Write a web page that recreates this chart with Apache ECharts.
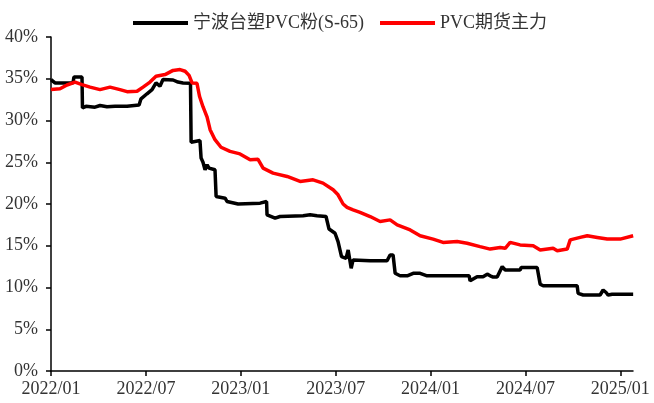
<!DOCTYPE html>
<html>
<head>
<meta charset="utf-8">
<script src="https://cdn.jsdelivr.net/npm/echarts@6/dist/echarts.min.js"></script>
<style>html,body{margin:0;padding:0;background:#fff}#c{width:654px;height:403px}</style>
</head>
<body>
<div id="c"></div>
<script>
// x values: months elapsed since 2022/01 (fractional)
const seriesNames = ['宁波台塑PVC粉(S-65)', 'PVC期货主力'];
const blackMonths = [0,0.25,1.39,1.45,1.96,1.99,2.21,2.78,3.10,3.54,4.05,4.81,5.57,5.69,6.07,6.39,6.64,6.89,7.08,7.72,8.03,8.35,8.82,8.86,9.42,9.49,9.61,9.74,9.87,9.99,10.37,10.44,11.01,11.13,11.83,13.22,13.63,13.66,14.17,14.48,15.94,16.38,16.82,17.39,17.58,17.96,18.15,18.37,18.66,18.79,18.91,18.98,19.10,20.18,21.25,21.44,21.63,21.76,22.07,22.52,22.90,23.34,23.78,26.44,26.50,26.94,27.32,27.58,27.77,27.96,28.21,28.53,28.72,29.66,29.73,30.74,30.93,31.12,32.19,33.27,33.33,33.65,34.72,34.91,35.10,35.23,35.48,36.81];
const blackValues = [34.9,34.5,34.5,35.2,35.2,31.5,31.7,31.6,31.8,31.65,31.7,31.7,31.85,32.6,33.2,33.7,34.5,34.1,34.9,34.85,34.6,34.5,34.45,27.4,27.6,25.5,25.0,24.1,24.7,24.3,24.1,20.9,20.7,20.3,20.0,20.1,20.3,18.7,18.3,18.5,18.6,18.7,18.6,18.5,17.0,16.5,15.5,13.7,13.5,14.5,14.5,12.3,13.3,13.2,13.2,13.9,13.9,11.7,11.4,11.4,11.7,11.7,11.4,11.4,10.8,11.3,11.3,11.6,11.4,11.25,11.25,12.5,12.1,12.1,12.4,12.4,10.4,10.2,10.2,10.2,9.3,9.1,9.1,9.7,9.4,9.1,9.2,9.2];
const redMonths = [0,0.57,1.01,1.52,1.96,2.47,3.10,3.73,4.36,4.81,5.44,5.82,6.26,6.64,7.21,7.72,8.16,8.48,8.73,8.92,9.23,9.39,9.61,9.87,10.06,10.37,10.75,11.32,11.95,12.59,13.09,13.41,14.04,14.93,15.75,16.57,17.20,17.84,18.15,18.47,18.72,19.10,19.54,20.18,20.81,21.44,21.89,22.71,23.34,24.16,24.79,25.68,26.31,27.13,27.77,28.40,28.72,29.03,29.66,30.49,30.93,31.75,32.01,32.64,32.83,33.46,33.91,34.54,35.17,35.99,36.81];
const redValues = [33.7,33.8,34.25,34.6,34.3,34.0,33.7,34.0,33.7,33.45,33.5,34.0,34.6,35.3,35.5,36.0,36.1,35.9,35.4,34.5,34.45,32.9,31.65,30.4,28.9,27.7,26.8,26.3,26.0,25.3,25.35,24.3,23.7,23.3,22.7,22.9,22.5,21.7,21.1,20.0,19.6,19.3,19.0,18.5,17.9,18.1,17.5,16.9,16.2,15.8,15.4,15.5,15.3,14.9,14.6,14.8,14.7,15.4,15.1,15.0,14.5,14.7,14.4,14.6,15.7,16.0,16.2,16.0,15.8,15.8,16.2];
const xTickLabels = ['2022/01','2022/07','2023/01','2023/07','2024/01','2024/07','2025/01'];
const yTickLabels = ['0%','5%','10%','15%','20%','25%','30%','35%','40%'];

const pair = (xs, ys) => xs.map((x, i) => [x, ys[i]]);
const font = '"Liberation Serif", "Times New Roman", "Noto Sans CJK SC", serif';

const chart = echarts.init(document.getElementById('c'), null, {renderer: 'canvas'});
chart.setOption({
  animation: false,
  backgroundColor: '#fff',
  textStyle: {fontFamily: font},
  legend: {
    left: 128, top: 9,
    icon: 'rect',
    itemWidth: 55, itemHeight: 4, itemGap: 16,
    textStyle: {fontFamily: font, fontSize: 18, color: '#333'},
    data: seriesNames
  },
  grid: {left: 51, right: 21, top: 37, bottom: 32, containLabel: false},
  xAxis: {
    type: 'value', min: 0, max: 36.8, interval: 6,
    splitLine: {show: false},
    axisLine: {lineStyle: {color: '#000', width: 1.5}},
    axisTick: {show: true, length: 5, lineStyle: {color: '#000', width: 1.5}},
    axisLabel: {
      fontFamily: font, fontSize: 18, color: '#333', margin: 9,
      showMaxLabel: false,
      formatter: v => xTickLabels[Math.round(v / 6)] || ''
    }
  },
  yAxis: {
    type: 'value', min: 0, max: 40, interval: 5,
    splitLine: {show: false},
    axisLine: {show: true, lineStyle: {color: '#000', width: 1.5}},
    axisTick: {show: true, length: 5, lineStyle: {color: '#000', width: 1.5}},
    axisLabel: {
      fontFamily: font, fontSize: 18, color: '#333', margin: 13,
      formatter: v => yTickLabels[Math.round(v / 5)]
    }
  },
  series: [
    {
      name: seriesNames[0], type: 'line', data: pair(blackMonths, blackValues),
      symbol: 'none', showSymbol: false,
      lineStyle: {color: '#000', width: 3.5}, itemStyle: {color: '#000'}
    },
    {
      name: seriesNames[1], type: 'line', data: pair(redMonths, redValues),
      symbol: 'none', showSymbol: false,
      lineStyle: {color: '#ff0000', width: 3.5}, itemStyle: {color: '#ff0000'}
    }
  ]
});
</script>
</body>
</html>
